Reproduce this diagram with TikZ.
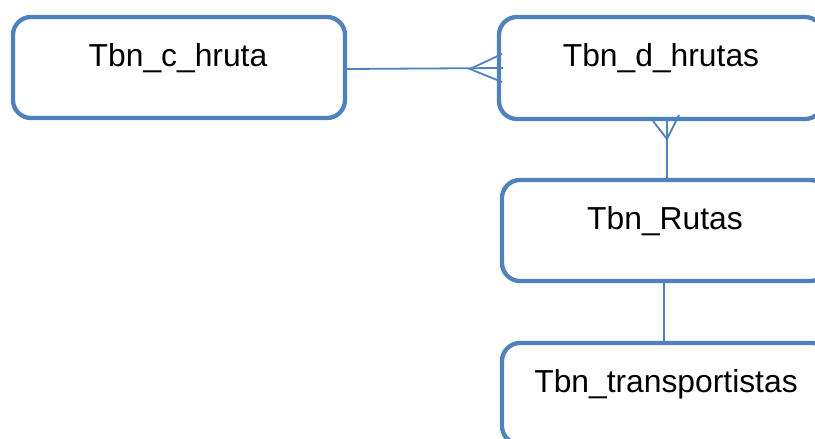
\documentclass[tikz,border=0pt]{standalone}
\usepackage{fontspec}
\setmainfont{Liberation Sans}
\definecolor{boxblue}{HTML}{4F81BD}
\begin{document}
\begin{tikzpicture}[x=1pt,y=-1pt,
  tbox/.style={draw=boxblue, line width=4.3pt, rounded corners=18pt, inner sep=0pt, outer sep=0pt, fill=white},
  lbl/.style={anchor=base, inner sep=0pt, font=\fontsize{31.8}{36}\selectfont},
  conn/.style={draw=boxblue, line width=1.8pt}]
\clip (0,0) rectangle (815,439);
\fill[white] (0,0) rectangle (815,439);
\node[tbox, minimum width=332pt, minimum height=101pt] (c) at (179,67.5) {};
\node[tbox, minimum width=324pt, minimum height=102pt] (d) at (661,68) {};
\node[tbox, minimum width=326pt, minimum height=101pt] (r) at (665,230.5) {};
\node[tbox, minimum width=328pt, minimum height=101pt] (t) at (666,393.5) {};
\node[lbl] (cl) at (178,66.5) {Tbn\_c\_hruta};
\node[lbl] (dl) at (661,66) {Tbn\_d\_hrutas};
\node[lbl] (rl) at (665,229) {Tbn\_Rutas};
\node[lbl] (tl) at (666,392) {Tbn\_transportistas};
% c -- d with crow's foot at d
\coordinate (dapex) at ([xshift=-29pt,yshift=-1pt]d.west);
\draw[conn] ([yshift=-1.5pt]c.east) -- ([xshift=4pt]d.west);
\draw[conn] ([xshift=3pt,yshift=-14pt]d.west) -- (dapex) -- ([xshift=3pt,yshift=14pt]d.west);
% r -- d with crow's foot at d
\coordinate (vapex) at ([xshift=6pt,yshift=-20pt]d.south);
\draw[conn] ([xshift=2pt]r.north) -- ([xshift=6pt]d.south);
\draw[conn] ([xshift=-8pt,yshift=-2pt]d.south) -- (vapex) -- ([xshift=18pt,yshift=4pt]d.south);
% r -- t
\draw[conn] ([xshift=-1pt]r.south) -- ([xshift=-2pt]t.north);
\end{tikzpicture}
\end{document}
